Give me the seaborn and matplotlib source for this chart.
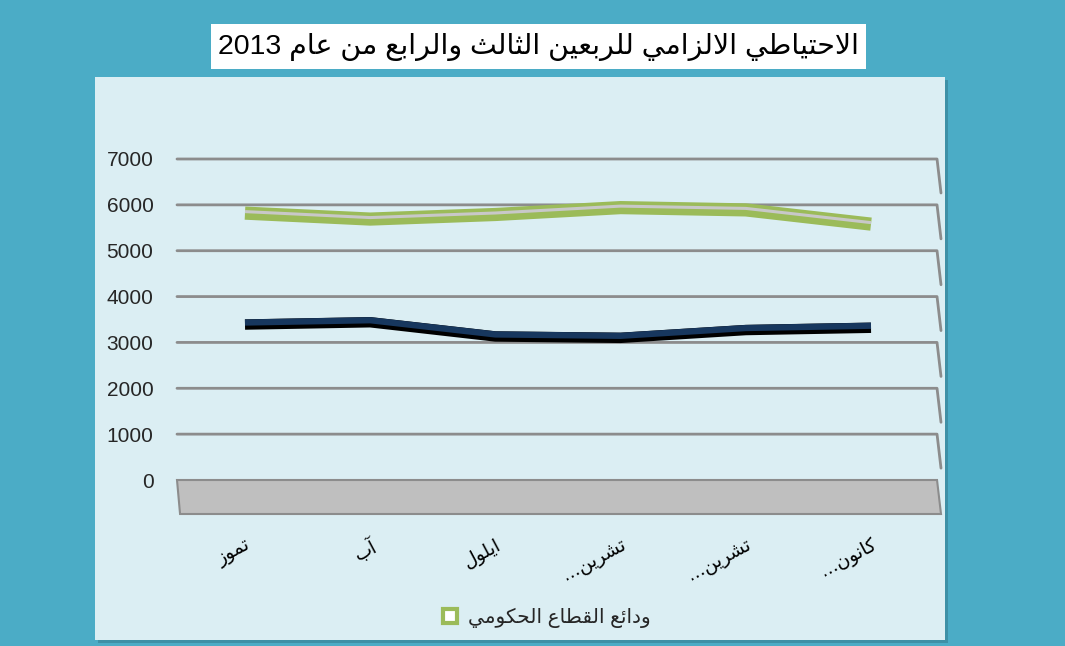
import re

import matplotlib
matplotlib.use("Agg")
import matplotlib.pyplot as plt
import matplotlib.patches as mpatches
import matplotlib.transforms as mtransforms
from matplotlib.lines import Line2D
import numpy as np
import pandas as pd
import seaborn as sns

title = "الاحتياطي الالزامي للربعين الثالث والرابع من عام 2013"
months = ["تموز", "آب", "ايلول", "تشرين...", "تشرين...", "كانون..."]
legend_label = "ودائع القطاع الحكومي"
gov_deposits = [5820, 5690, 5790, 5940, 5890, 5580]
other_series = [3390, 3440, 3130, 3100, 3270, 3320]
y_ticks = [0, 1000, 2000, 3000, 4000, 5000, 6000, 7000]

# arabic letter -> (isolated presentation form, number of forms)
FORMS = {
    "ء": (0xFE80, 1), "آ": (0xFE81, 2), "أ": (0xFE83, 2), "ؤ": (0xFE85, 2),
    "إ": (0xFE87, 2), "ئ": (0xFE89, 4), "ا": (0xFE8D, 2), "ب": (0xFE8F, 4),
    "ة": (0xFE93, 2), "ت": (0xFE95, 4), "ث": (0xFE99, 4), "ج": (0xFE9D, 4),
    "ح": (0xFEA1, 4), "خ": (0xFEA5, 4), "د": (0xFEA9, 2), "ذ": (0xFEAB, 2),
    "ر": (0xFEAD, 2), "ز": (0xFEAF, 2), "س": (0xFEB1, 4), "ش": (0xFEB5, 4),
    "ص": (0xFEB9, 4), "ض": (0xFEBD, 4), "ط": (0xFEC1, 4), "ظ": (0xFEC5, 4),
    "ع": (0xFEC9, 4), "غ": (0xFECD, 4), "ف": (0xFED1, 4), "ق": (0xFED5, 4),
    "ك": (0xFED9, 4), "ل": (0xFEDD, 4), "م": (0xFEE1, 4), "ن": (0xFEE5, 4),
    "ه": (0xFEE9, 4), "و": (0xFEED, 2), "ى": (0xFEEF, 2), "ي": (0xFEF1, 4),
}
LAM_ALEF = {"آ": 0xFEF5, "أ": 0xFEF7, "إ": 0xFEF9, "ا": 0xFEFB}


def shape(text):
    # matplotlib has no arabic shaping / bidi, so do it by hand
    chars = []
    i = 0
    while i < len(text):
        c = text[i]
        if c == "ل" and i + 1 < len(text) and text[i + 1] in LAM_ALEF:
            chars.append(("LA", text[i + 1]))
            i += 2
        else:
            chars.append((c, None))
            i += 1
    out = []
    for k, (c, extra) in enumerate(chars):
        prev = chars[k - 1][0] if k > 0 else None
        nxt = chars[k + 1][0] if k + 1 < len(chars) else None
        prev_joins = prev in FORMS and FORMS[prev][1] == 4
        if c == "LA":
            out.append(chr(LAM_ALEF[extra] + (1 if prev_joins else 0)))
            continue
        if c not in FORMS:
            out.append(c)
            continue
        base, n = FORMS[c]
        join_prev = prev_joins and n > 1
        join_next = n == 4 and (nxt in FORMS or nxt == "LA")
        if join_prev and join_next:
            off = 3
        elif join_prev:
            off = 1
        elif join_next:
            off = 2
        else:
            off = 0
        out.append(chr(base + off))
    vis = "".join(out)[::-1]
    return re.sub(r"[0-9]+", lambda m: m.group(0)[::-1], vis)


sns.set_theme(style="white")
plt.rcParams["font.family"] = ["Liberation Sans", "DejaVu Sans"]

W, H = 1065, 646
fx = lambda px: px / W
fy = lambda py: 1 - py / H

fig = plt.figure(figsize=(W / 100, H / 100), dpi=100, facecolor="#4BACC6")

# inner panel with a soft shadow
fig.patches.append(mpatches.Rectangle((fx(98), fy(643)), (945 - 95) / W, (640 - 77) / H,
                                      transform=fig.transFigure, facecolor="#3E90A6",
                                      edgecolor="none", zorder=-3))
fig.patches.append(mpatches.Rectangle((fx(95), fy(640)), (945 - 95) / W, (640 - 77) / H,
                                      transform=fig.transFigure, facecolor="#DBEEF3",
                                      edgecolor="none", zorder=-2))
# title box
fig.patches.append(mpatches.Rectangle((fx(211), fy(69)), (866 - 211) / W, (69 - 24) / H,
                                      transform=fig.transFigure, facecolor="white",
                                      edgecolor="none", zorder=-2))
fig.text(fx(539), fy(47), shape(title), ha="center", va="center", fontsize=20.5, color="black")

ax = fig.add_axes([fx(177), fy(480), (941 - 177) / W, (480 - 159) / H])
ax.set_facecolor("none")
for s in ax.spines.values():
    s.set_visible(False)

x = np.arange(len(months))
df = pd.DataFrame({"x": x, "gov": gov_deposits, "other": other_series})

# back wall gridlines with the 3d side edge
drop = 34 / 321
for v in y_ticks[1:]:
    yy = v / 7000
    ax.plot([0, 0.9948, 1.0], [yy, yy, yy - drop], transform=ax.transAxes,
            color="#8C8C8C", lw=2, clip_on=False, zorder=1)

# floor
floor = mpatches.Polygon([(0, 0), (0.9948, 0), (1.0, -drop), (0.004, -drop)], closed=True,
                         transform=ax.transAxes, facecolor="#BFBFBF", edgecolor="#8C8C8C",
                         lw=1.5, clip_on=False, zorder=1)
ax.add_patch(floor)


def shift(px):
    return ax.transData + mtransforms.ScaledTranslation(0, px / 100, fig.dpi_scale_trans)


# dark ribbon: black underside + navy top
sns.lineplot(data=df, x="x", y="other", ax=ax, color="black", linewidth=7.5, zorder=3,
             solid_capstyle="butt", solid_joinstyle="round")
sns.lineplot(data=df, x="x", y="other", ax=ax, color="#17375E", linewidth=4.5, zorder=4,
             solid_capstyle="butt", solid_joinstyle="round")
ax.lines[-1].set_transform(shift(2))

# green ribbon with light stripe along its upper part
sns.lineplot(data=df, x="x", y="gov", ax=ax, color="#9BBB59", linewidth=9.5, zorder=3,
             solid_capstyle="butt", solid_joinstyle="round")
sns.lineplot(data=df, x="x", y="gov", ax=ax, color="#C8C8C8", linewidth=2.2, zorder=4,
             solid_capstyle="butt", solid_joinstyle="round")
ax.lines[-1].set_transform(shift(1.5))

ax.set_xlim(-0.543, 5.559)
ax.set_ylim(0, 7000)
ax.set_xlabel("")
ax.set_ylabel("")
ax.set_yticks(y_ticks)
ax.set_yticklabels([str(v) for v in y_ticks])
ax.tick_params(axis="y", length=0, pad=17, labelsize=15, labelcolor="#262626")
ax.set_xticks(x)
ax.set_xticklabels([shape(m) for m in months])
ax.tick_params(axis="x", length=0, pad=40, labelsize=13.5, labelcolor="black")
for lbl in ax.get_xticklabels():
    lbl.set_rotation(28)
    lbl.set_rotation_mode("anchor")
    lbl.set_ha("right")
    lbl.set_va("top")
    lbl.set_family("DejaVu Sans")
ax.grid(False)

handle = Line2D([], [], marker="s", ls="", markersize=10, markerfacecolor="white",
                markeredgecolor="#9BBB59", markeredgewidth=3)
fig.legend([handle], [shape(legend_label)], loc="center", bbox_to_anchor=(fx(545), fy(618)),
           frameon=False, fontsize=14.5, handletextpad=0.4, handlelength=1.0)

fig.savefig("out.png", dpi=100, facecolor=fig.get_facecolor())
